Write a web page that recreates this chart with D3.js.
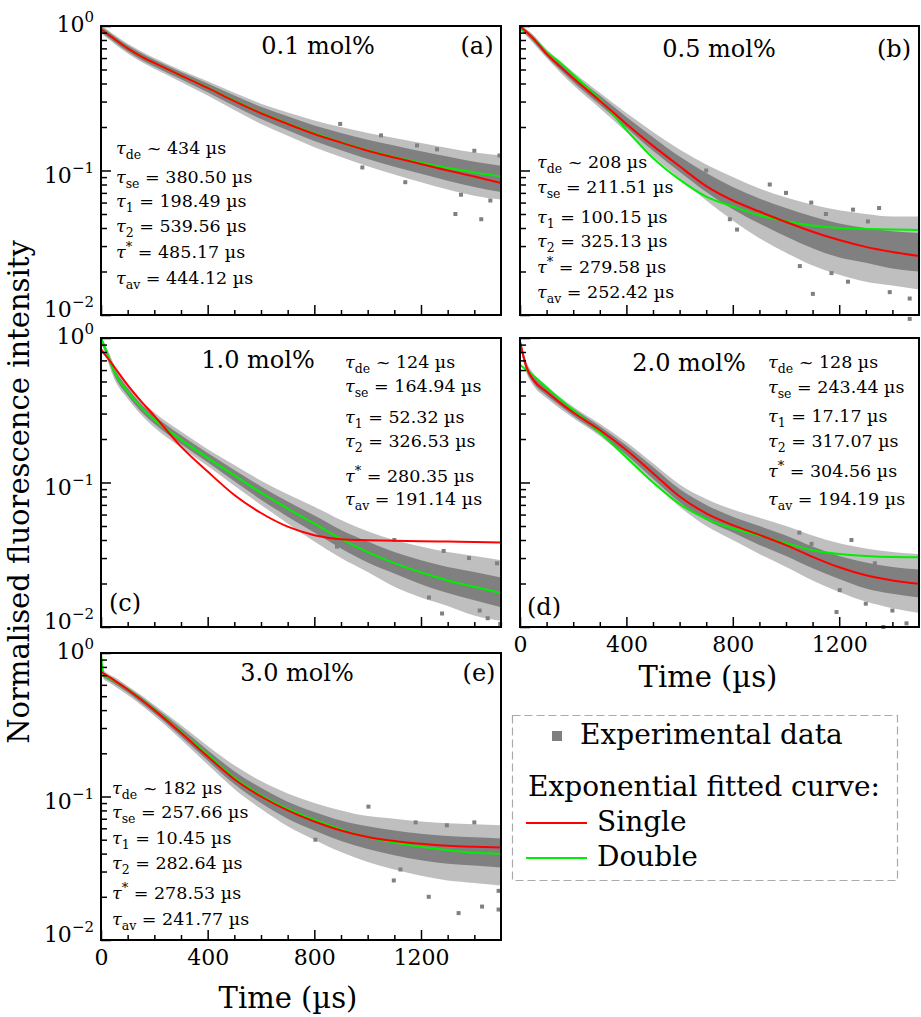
<!DOCTYPE html>
<html><head><meta charset="utf-8">
<script src="https://cdn.jsdelivr.net/npm/d3@7"></script>
<style>
body{margin:0;background:#fff}
svg{display:block}
text{font-family:"DejaVu Serif",serif;fill:#000}
</style>
</head><body>
<svg id="chart" width="921" height="1017"></svg>
<script>
// ---------- data ----------
const timeGrid = [0,10,25,50,100,150,200,300,400,500,600,700,800,900,1000,1100,1200,1300,1400,1500];

// (a) 0.1 mol%
const singleA  = [.95,.92,.879,.815,.70,.617,.555,.454,.373,.302,.249,.21,.179,.156,.137,.123,.111,.100,.091,.082];
const doubleA  = [.95,.92,.879,.815,.70,.617,.555,.454,.375,.304,.251,.212,.181,.157,.138,.124,.113,.104,.097,.091];
const coreHiA  = [.99,.96,.92,.85,.735,.65,.585,.48,.40,.33,.276,.237,.205,.182,.163,.149,.136,.125,.115,.108];
const coreLoA  = [.91,.88,.84,.775,.665,.585,.525,.428,.348,.279,.227,.19,.16,.138,.12,.106,.095,.085,.077,.071];
const outerHiA = [1.0,.98,.94,.87,.755,.67,.60,.495,.415,.345,.29,.252,.222,.20,.182,.168,.155,.143,.133,.127];
const outerLoA = [.89,.86,.82,.755,.645,.565,.505,.41,.33,.262,.21,.174,.145,.124,.107,.094,.083,.074,.067,.063];
const outliersA = [[897,.21],[1185,.149],[1141,.083],[1329,.050],[1426,.046],[1494,.127],[1050,.175],[1260,.14],[1350,.068],[1460,.062],[980,.105],[1400,.137]];

// (b) 0.5 mol%
const singleB  = [1.0,.96,.91,.82,.641,.526,.435,.304,.21,.148,.107,.078,.062,.052,.044,.0377,.033,.0296,.0273,.0256];
const doubleB  = [.96,.935,.90,.82,.66,.56,.46,.311,.191,.122,.0865,.066,.0564,.049,.0446,.0417,.040,.0394,.039,.0388];
const coreHiB  = [1.0,.97,.93,.85,.67,.555,.46,.33,.235,.17,.125,.096,.077,.064,.055,.048,.043,.040,.038,.037];
const coreLoB  = [.95,.92,.87,.78,.615,.50,.41,.285,.198,.137,.098,.071,.054,.043,.035,.029,.025,.023,.021,.020];
const outerHiB = [1.0,.99,.95,.87,.69,.575,.48,.345,.25,.185,.14,.11,.09,.075,.065,.058,.053,.050,.048,.048];
const outerLoB = [.93,.90,.85,.76,.60,.48,.39,.27,.185,.125,.088,.062,.045,.034,.027,.022,.019,.017,.016,.015];
const outliersB = [[789,.046],[816,.039],[939,.080],[1095,.06],[1101,.014],[1465,.0094],[1252,.0536],[1308,.0444],[1233,.017],[1390,.0144],[1465,.013],[1052,.0218],[1171,.0195],[700,.10],[1000,.07],[1350,.055],[1150,.05]];

// (c) 1.0 mol%
const singleC  = [.84,.79,.727,.63,.472,.366,.289,.177,.119,.082,.0615,.0495,.0432,.0405,.0399,.0396,.0392,.039,.0388,.0385];
const doubleC  = [1.0,.90,.766,.58,.426,.332,.272,.198,.148,.112,.085,.066,.052,.0407,.033,.0277,.0239,.021,.019,.0172];
const coreHiC  = [1.0,.93,.80,.62,.45,.35,.29,.212,.16,.122,.094,.074,.059,.047,.039,.033,.029,.026,.024,.022];
const coreLoC  = [.93,.86,.72,.55,.40,.31,.255,.185,.138,.102,.076,.058,.045,.035,.028,.0235,.0198,.0172,.0153,.0137];
const outerHiC = [1.0,.95,.83,.65,.47,.37,.305,.225,.17,.132,.103,.083,.068,.055,.046,.04,.036,.033,.031,.029];
const outerLoC = [.90,.83,.69,.52,.38,.295,.24,.175,.13,.095,.07,.052,.039,.03,.024,.019,.016,.014,.012,.011];
const outliersC = [[1285,.0336],[1497,.0105],[1485,.0276],[1279,.0124],[885,.036],[1320,.019],[1420,.013],[1450,.0115],[1380,.030],[1100,.04],[1230,.016]];

// (d) 2.0 mol%
const singleD  = [.947,.787,.624,.513,.424,.357,.305,.231,.168,.116,.080,.0612,.0507,.0434,.0369,.0306,.0259,.0228,.021,.0199];
const doubleD  = [.653,.63,.60,.55,.454,.378,.318,.222,.149,.100,.071,.056,.048,.043,.038,.0340,.032,.031,.0305,.0304];
const coreHiD  = [1.0,.82,.66,.55,.45,.38,.325,.245,.18,.128,.09,.07,.058,.05,.043,.036,.031,.028,.026,.025];
const coreLoD  = [.92,.74,.59,.49,.40,.34,.29,.217,.155,.106,.073,.055,.045,.037,.031,.0255,.0215,.0185,.017,.016];
const outerHiD = [1.0,.84,.68,.57,.47,.39,.335,.255,.19,.136,.097,.077,.065,.057,.05,.043,.038,.035,.033,.032];
const outerLoD = [.90,.72,.57,.47,.385,.325,.28,.21,.148,.10,.068,.05,.04,.032,.026,.021,.0175,.015,.0135,.0125];
const outliersD = [[1190,.0127],[1366,.010],[1453,.0106],[1246,.040],[1096,.0376],[1334,.0276],[1202,.018],[1484,.019],[1400,.013],[1050,.045],[1300,.0145]];

// (e) 3.0 mol%
const singleE  = [.738,.718,.69,.645,.557,.474,.40,.278,.19,.132,.10,.08,.067,.058,.0523,.049,.0468,.0453,.0446,.0442];
const doubleE  = [1.0,.70,.675,.64,.56,.478,.405,.282,.195,.135,.102,.082,.069,.059,.052,.0478,.0446,.0422,.0405,.0398];
const coreHiE  = [1.0,.74,.70,.66,.575,.495,.42,.30,.21,.15,.115,.092,.078,.068,.062,.058,.055,.053,.052,.051];
const coreLoE  = [.90,.68,.65,.61,.53,.45,.38,.262,.178,.122,.09,.07,.058,.049,.043,.039,.036,.034,.033,.032];
const outerHiE = [1.0,.76,.72,.68,.59,.51,.435,.315,.225,.165,.128,.105,.09,.08,.073,.07,.067,.065,.064,.063];
const outerLoE = [.88,.66,.63,.59,.51,.435,.365,.25,.167,.113,.082,.062,.05,.041,.035,.031,.028,.026,.025,.024];
const outliersE = [[1003,.085],[804,.05],[1229,.020],[1341,.0154],[1429,.0171],[1491,.0163],[1491,.022],[1098,.026],[1123,.031],[1297,.063],[1400,.066],[1180,.066]];

const concentrations = ["0.1 mol%","0.5 mol%","1.0 mol%","2.0 mol%","3.0 mol%"];
const panelLetters = ["(a)","(b)","(c)","(d)","(e)"];
const tauDe   = ["434","208","124","128","182"];
const tauSe   = ["380.50","211.51","164.94","243.44","257.66"];
const tau1    = ["198.49","100.15","52.32","17.17","10.45"];
const tau2    = ["539.56","325.13","326.53","317.07","282.64"];
const tauStar = ["485.17","279.58","280.35","304.56","278.53"];
const tauAv   = ["444.12","252.42","191.14","194.19","241.77"];

const xMajorTicks = [0,400,800,1200];
const xMinorTicks = [100,200,300,500,600,700,900,1000,1100,1300,1400];
const yMajorTicks = [1,0.1,0.01];
const yMajorExp = ["0","\u22121","\u22122"];
const yMinorTicks = [0.9,0.8,0.7,0.6,0.5,0.4,0.3,0.2,0.09,0.08,0.07,0.06,0.05,0.04,0.03,0.02];

const legendLabels = ["Experimental data","Exponential fitted curve:","Single","Double"];
const xTitle = "Time (\u00b5s)";
const yTitle = "Normalised fluorescence intensity";

// ---------- layout ----------
const series = [
  {single:singleA,double:doubleA,coreHi:coreHiA,coreLo:coreLoA,outerHi:outerHiA,outerLo:outerLoA,outliers:outliersA},
  {single:singleB,double:doubleB,coreHi:coreHiB,coreLo:coreLoB,outerHi:outerHiB,outerLo:outerLoB,outliers:outliersB},
  {single:singleC,double:doubleC,coreHi:coreHiC,coreLo:coreLoC,outerHi:outerHiC,outerLo:outerLoC,outliers:outliersC},
  {single:singleD,double:doubleD,coreHi:coreHiD,coreLo:coreLoD,outerHi:outerHiD,outerLo:outerLoD,outliers:outliersD},
  {single:singleE,double:doubleE,coreHi:coreHiE,coreLo:coreLoE,outerHi:outerHiE,outerLo:outerLoE,outliers:outliersE}
];
const layout = [
  {l:101,r:501,t:26,b:315,yLab:true,xLab:false,title:[318,54],letter:[477,54],ann:{x:116,ys:[154,183,207,232,258,284]}},
  {l:520,r:919,t:26,b:315,yLab:false,xLab:false,title:[719,57],letter:[894,57],ann:{x:537,ys:[168,193,223,247,273,298]}},
  {l:101,r:501,t:338,b:627,yLab:true,xLab:false,title:[258,368],letter:[125,611],ann:{x:345,ys:[368,392,423,447,482,505]}},
  {l:520,r:919,t:338,b:627,yLab:false,xLab:true,title:[689,371],letter:[544,615],ann:{x:768,ys:[368,393,422,447,477,505]}},
  {l:101,r:501,t:653,b:940,yLab:true,xLab:true,title:[297,681],letter:[479,681],ann:{x:112,ys:[794,818,844,869,899,925]}}
];
const yLabOffsets = [6,12,2];
const GRAY = "#808080", RED = "#ff0000", GREEN = "#00ee00";

const svg = d3.select("#chart");

function annot(g, x, y, sub, isSup, rel, val){
  const t = g.append("text").attr("x",x).attr("y",y).attr("font-size",17.5);
  t.append("tspan").attr("font-style","italic").text("\u03c4");
  if(isSup){
    t.append("tspan").attr("font-size",13).attr("dy",-7).text(sub);
    t.append("tspan").attr("dy",7).text(" " + rel + " " + val + " \u00b5s");
  } else {
    t.append("tspan").attr("font-size",12.5).attr("dy",5).text(sub);
    t.append("tspan").attr("dy",-5).text(" " + rel + " " + val + " \u00b5s");
  }
}

series.forEach((s, i) => {
  const L = layout[i];
  const x = d3.scaleLinear().domain([0,1500]).range([L.l, L.r]);
  const y = d3.scaleLog().domain([0.01,1]).range([L.b, L.t]);
  const g = svg.append("g");

  const area = (hi, lo) => d3.area()
    .x((d,k) => x(timeGrid[k])).y0((d,k) => y(lo[k])).y1(d => y(d))
    .curve(d3.curveMonotoneX)(hi);
  const line = d3.line().x((d,k) => x(timeGrid[k])).y(d => y(d)).curve(d3.curveMonotoneX);

  // experimental data cloud
  g.append("path").attr("d", area(s.outerHi, s.outerLo)).attr("fill", GRAY).attr("opacity", 0.5);
  g.append("path").attr("d", area(s.coreHi, s.coreLo)).attr("fill", GRAY);
  g.selectAll("rect.pt").data(s.outliers).join("rect").attr("class","pt")
    .attr("x", d => x(d[0]) - 2).attr("y", d => y(d[1]) - 2)
    .attr("width", 4).attr("height", 4).attr("fill", GRAY);

  // fitted curves
  g.append("path").attr("d", line(s.double)).attr("fill","none").attr("stroke",GREEN).attr("stroke-width",2);
  g.append("path").attr("d", line(s.single)).attr("fill","none").attr("stroke",RED).attr("stroke-width",2);

  // axes ticks (inward)
  const styleAxis = ax => {
    ax.select(".domain").remove();
    ax.selectAll(".tick line").attr("stroke","#000").attr("stroke-width",1.5);
    ax.attr("font-family",null).attr("font-size",null);
    ax.selectAll("text").attr("font-size",22).attr("fill","#000");
  };
  g.append("g").attr("transform",`translate(0,${L.b})`)
    .call(d3.axisBottom(x).tickValues(xMajorTicks).tickSizeInner(-10).tickSizeOuter(0).tickPadding(9)
      .tickFormat(L.xLab ? d3.format("d") : () => ""))
    .call(styleAxis);
  g.append("g").attr("transform",`translate(0,${L.b})`)
    .call(d3.axisBottom(x).tickValues(xMinorTicks).tickSizeInner(-5).tickSizeOuter(0).tickFormat(() => ""))
    .call(styleAxis);
  g.append("g").attr("transform",`translate(${L.l},0)`)
    .call(d3.axisLeft(y).tickValues(yMajorTicks).tickSizeInner(-10).tickSizeOuter(0).tickFormat(() => ""))
    .call(styleAxis);
  g.append("g").attr("transform",`translate(${L.l},0)`)
    .call(d3.axisLeft(y).tickValues(yMinorTicks).tickSizeInner(-6).tickSizeOuter(0).tickFormat(() => ""))
    .call(styleAxis);

  // frame
  g.append("rect").attr("x",L.l).attr("y",L.t).attr("width",L.r-L.l).attr("height",L.b-L.t)
    .attr("fill","none").attr("stroke","#000").attr("stroke-width",2);

  // y tick labels 10^n
  if (L.yLab) {
    yMajorTicks.forEach((v, k) => {
      const t = g.append("text").attr("x", L.l - 7).attr("y", y(v) + yLabOffsets[k])
        .attr("text-anchor","end").attr("font-size",22);
      t.append("tspan").text("10");
      t.append("tspan").attr("font-size",15).attr("dy",-10).text(yMajorExp[k]);
    });
  }

  // titles
  g.append("text").attr("x",L.title[0]).attr("y",L.title[1]).attr("text-anchor","middle")
    .attr("font-size",24).text(concentrations[i]);
  g.append("text").attr("x",L.letter[0]).attr("y",L.letter[1]).attr("text-anchor","middle")
    .attr("font-size",24).text(panelLetters[i]);

  // annotations
  const A = L.ann;
  annot(g, A.x, A.ys[0], "de", false, "~", tauDe[i]);
  annot(g, A.x, A.ys[1], "se", false, "=", tauSe[i]);
  annot(g, A.x, A.ys[2], "1", false, "=", tau1[i]);
  annot(g, A.x, A.ys[3], "2", false, "=", tau2[i]);
  annot(g, A.x, A.ys[4], "*", true, "=", tauStar[i]);
  annot(g, A.x, A.ys[5], "av", false, "=", tauAv[i]);
});

// axis titles
svg.append("text").attr("x",708).attr("y",687).attr("text-anchor","middle").attr("font-size",29).text(xTitle);
svg.append("text").attr("x",288).attr("y",1008).attr("text-anchor","middle").attr("font-size",29).text(xTitle);
svg.append("text").attr("transform","translate(29,492) rotate(-90)").attr("text-anchor","middle")
  .attr("font-size",29).text(yTitle);

// legend
const lg = svg.append("g");
lg.append("rect").attr("x",512.5).attr("y",715.5).attr("width",385).attr("height",165)
  .attr("fill","#fff").attr("stroke","#aaaaaa").attr("stroke-width",1.2).attr("stroke-dasharray","8,4");
lg.append("rect").attr("x",552).attr("y",731).attr("width",10).attr("height",10).attr("fill",GRAY);
lg.append("text").attr("x",580).attr("y",744).attr("font-size",28).text(legendLabels[0]);
lg.append("text").attr("x",528).attr("y",796).attr("font-size",28).text(legendLabels[1]);
lg.append("line").attr("x1",526).attr("x2",587).attr("y1",823).attr("y2",823).attr("stroke",RED).attr("stroke-width",2);
lg.append("text").attr("x",597).attr("y",831).attr("font-size",28).text(legendLabels[2]);
lg.append("line").attr("x1",526).attr("x2",587).attr("y1",858).attr("y2",858).attr("stroke",GREEN).attr("stroke-width",2);
lg.append("text").attr("x",597).attr("y",866).attr("font-size",28).text(legendLabels[3]);
</script>
</body></html>
